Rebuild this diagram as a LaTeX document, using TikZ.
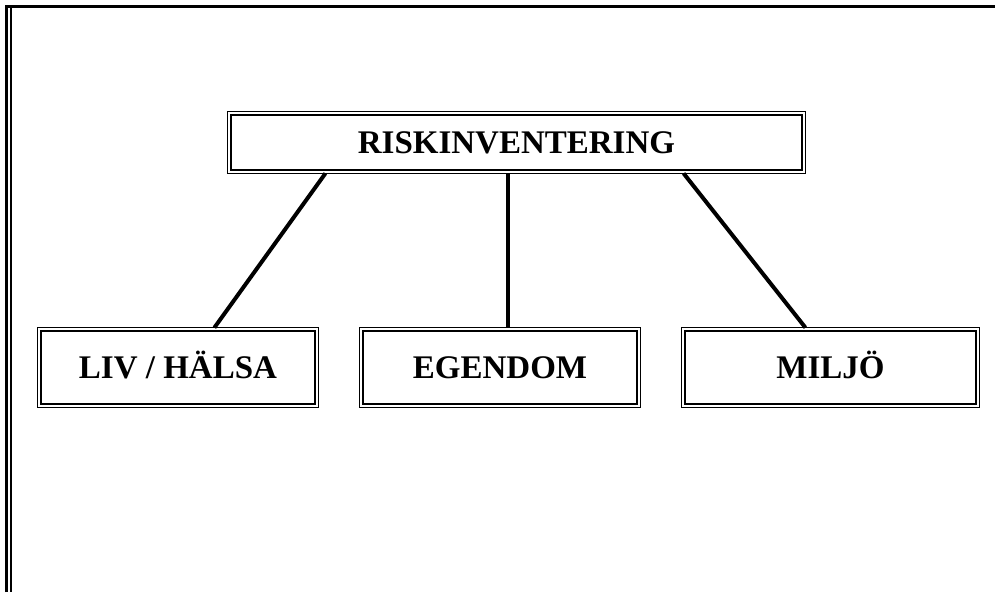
\documentclass[tikz,border=0pt]{standalone}
\usepackage{fontspec}
\setmainfont{Liberation Serif}
\begin{document}
\begin{tikzpicture}[x=1pt,y=1pt,
  box/.style={draw=black, double=white, line width=1.4pt, double distance=1.8pt,
    inner sep=0pt, font=\fontsize{33}{36}\selectfont\bfseries,
    text height=21.8pt, text depth=0pt},
  conn/.style={line width=4pt, black}]
\useasboundingbox (0,0) rectangle (995,-592);
% outer frame
\draw[line width=3.6pt] (6.6,-592) -- (6.6,-6.6) -- (995,-6.6);
\draw[line width=1.5pt] (10.8,-8) -- (10.8,-592);
% nodes
\node[box, minimum width=574.4pt, minimum height=58.4pt] (main) at (516.5,-142.5) {RISKINVENTERING};
\node[box, minimum width=277.4pt, minimum height=76.4pt] (liv) at (178,-367.5) {LIV / HÄLSA};
\node[box, minimum width=277.4pt, minimum height=76.4pt] (egen) at (500,-367.5) {EGENDOM};
\node[box, minimum width=294.4pt, minimum height=76.4pt] (milj) at (830.5,-367.5) {MILJÖ};
% connectors
\draw[conn] ([xshift=96.8pt,yshift=-1pt]main.south west) -- ([xshift=175.8pt,yshift=1pt]liv.north west);
\draw[conn] ([xshift=-8.5pt,yshift=-1pt]main.south) -- ([xshift=8pt,yshift=1pt]egen.north);
\draw[conn] ([xshift=-120.8pt,yshift=-1pt]main.south east) -- ([xshift=122.8pt,yshift=1pt]milj.north west);
\end{tikzpicture}
\end{document}
